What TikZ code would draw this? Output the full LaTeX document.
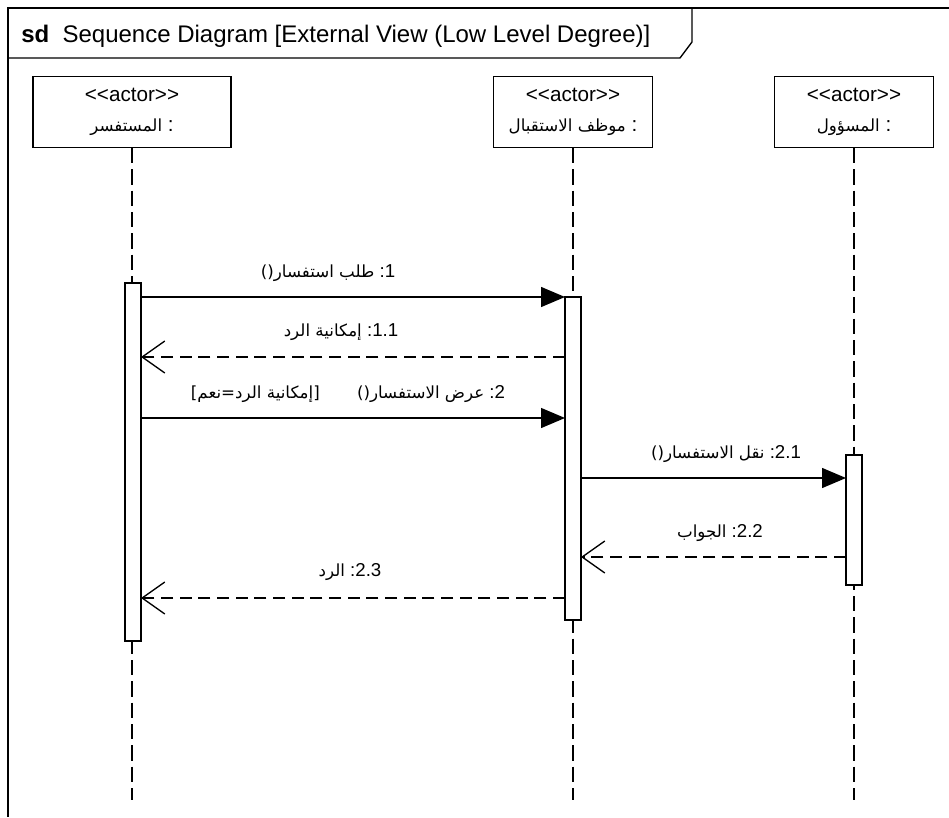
\documentclass[tikz,border=0pt]{standalone}
\usepackage{fontspec}
\setmainfont{Liberation Sans}
\newfontfamily\arabicfont[Script=Arabic]{DejaVu Sans}
\TeXXeTstate=1
\newcommand{\artext}[1]{{\arabicfont\fontsize{12.5}{16}\selectfont #1}}
\usetikzlibrary{arrows.meta}
\begin{document}
\begin{tikzpicture}[x=0.75pt,y=-0.75pt,
  frameline/.style={line width=1.4pt},
  actorbox/.style={draw, line width=1pt, fill=white, minimum width=148.5pt, minimum height=53pt, align=center, inner sep=0pt, font=\fontsize{15.5}{22.5}\selectfont},
  actorboxb/.style={actorbox, minimum width=119pt},
  lifeline/.style={draw, line width=1pt, dash pattern=on 11.5pt off 4.5pt},
  actbar/.style={draw, line width=1pt, fill=white, minimum width=12pt, inner sep=0pt, outer sep=0pt},
  sync/.style={draw, line width=1pt, -{Triangle[length=18pt,width=15pt]}},
  ret/.style={draw, line width=1pt, dash pattern=on 9pt off 5pt, -{Straight Barb[length=17pt,width=24pt,line width=1pt]}},
  lbl/.style={inner sep=1pt, font=\fontsize{14}{16}\selectfont}
]
\useasboundingbox (0,0) rectangle (949,817);
\fill[white] (0,0) rectangle (949,817);

% frame
\coordinate (ftr) at (949,8);
\coordinate (ftl) at (8,8);
\coordinate (fbl) at (8,817);
\draw[frameline] (ftr) -- (ftl) -- (fbl);
\coordinate (tab1) at (8,58);
\coordinate (tab2) at (680,58);
\coordinate (tab3) at (692,42);
\coordinate (tab4) at (692,8);
\draw[line width=1pt] (tab1) -- (tab2) -- (tab3) -- (tab4);
\node[anchor=west, inner sep=0pt, font=\fontsize{18}{20}\selectfont] (title) at (21,36)
  {\textbf{sd}\ \ Sequence Diagram [External View (Low Level Degree)]};

% actors
\node[actorbox] (a1) at (132,112) {<{}<actor>{}>\\\beginR:\ \artext{المستفسر}\endR};
\node[actorboxb] (a2) at (573,112) {<{}<actor>{}>\\\beginR:\ \artext{موظف الاستقبال}\endR};
\node[actorboxb] (a3) at (854,112) {<{}<actor>{}>\\\beginR:\ \artext{المسؤول}\endR};

% lifelines
\coordinate (e1) at (132,800);
\coordinate (e2) at (573,800);
\coordinate (e3) at (854,800);
\draw[lifeline] (a1.south) -- (e1);
\draw[lifeline] (a2.south) -- (e2);
\draw[lifeline] (a3.south) -- (e3);

% activation bars
\node[actbar, minimum height=268.5pt] (b1) at (133,462) {};
\node[actbar, minimum height=242.25pt] (b2) at (573,458.5) {};
\node[actbar, minimum height=97.5pt] (b3) at (854,520) {};

% messages
\draw[sync] (b1.east |- 0,297) -- (b2.west |- 0,297);
\node[lbl] (t1) at (328,273) {\beginR\beginL 1\endL:\ \artext{طلب استفسار()}\endR};

\draw[ret] (b2.west |- 0,357) -- (b1.east |- 0,357);
\node[lbl] (t11) at (341,332) {\beginR\beginL 1.1\endL:\ \artext{إمكانية الرد}\endR};

\draw[sync] (b1.east |- 0,418) -- (b2.west |- 0,418);
\node[lbl] (t2) at (348,394) {\beginR\beginL 2\endL:\ \artext{عرض الاستفسار()}\quad\quad\artext{[إمكانية الرد=نعم]}\endR};

\draw[sync] (b2.east |- 0,478) -- (b3.west |- 0,478);
\node[lbl] (t21) at (726,454) {\beginR\beginL 2.1\endL:\ \artext{نقل الاستفسار()}\endR};

\draw[ret] (b3.west |- 0,557) -- (b2.east |- 0,557);
\node[lbl] (t22) at (720,533) {\beginR\beginL 2.2\endL:\ \artext{الجواب}\endR};

\draw[ret] (b2.west |- 0,598) -- (b1.east |- 0,598);
\node[lbl] (t23) at (350,572) {\beginR\beginL 2.3\endL:\ \artext{الرد}\endR};
\end{tikzpicture}
\end{document}
